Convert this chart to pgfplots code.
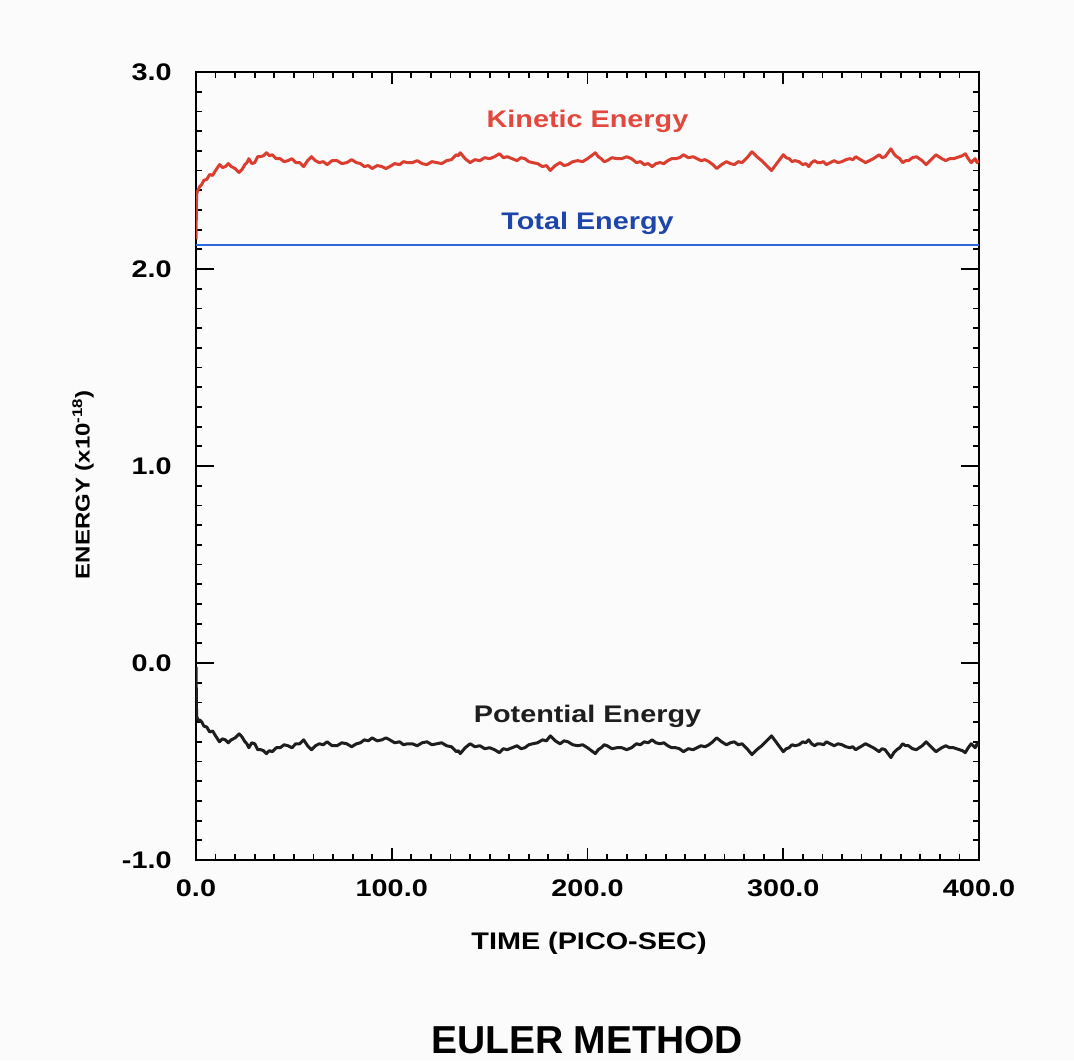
\documentclass[border=0pt]{standalone}
\usepackage{fontspec}
\setmainfont{Liberation Sans}[FakeStretch=1.2]
\newfontfamily\titlefont{Liberation Sans}
\usepackage{pgfplots}
\usepackage{pgfplotstable}
\pgfplotsset{compat=1.18}
\definecolor{pagebg}{RGB}{251,251,251}
\definecolor{kinred}{RGB}{218,62,48}
\definecolor{kintext}{RGB}{226,72,62}
\definecolor{totblue}{RGB}{45,105,225}
\definecolor{tottext}{RGB}{30,70,170}
\definecolor{potblack}{RGB}{30,30,30}

\pgfplotstableread{
t k
0 2.150
0.3 2.380
1 2.400
2 2.420
3 2.430
4 2.450
5.5 2.455
7 2.480
8.5 2.475
10 2.500
11 2.515
12 2.530
13.5 2.515
15 2.520
16.5 2.535
18 2.520
20 2.510
22 2.490
23.5 2.505
25 2.530
26 2.540
27 2.560
28.5 2.535
30 2.540
31.5 2.570
33 2.570
34.5 2.575
36 2.590
37.5 2.575
39 2.580
41 2.560
43 2.560
45 2.545
47 2.550
49 2.560
51 2.540
53 2.540
55 2.520
57 2.550
59 2.570
61 2.550
63 2.540
65 2.545
67 2.530
69.5 2.550
72 2.550
74.5 2.535
77 2.540
79.5 2.555
82 2.540
84 2.535
86 2.520
88 2.525
90 2.510
92.5 2.525
95 2.520
97 2.510
99 2.520
101.5 2.535
104 2.530
106 2.545
108 2.540
110.5 2.540
113 2.550
115.5 2.535
118 2.530
120.5 2.545
123 2.540
125.5 2.535
128 2.550
130.5 2.555
133 2.580
134 2.575
135 2.590
137.5 2.560
140 2.540
142.5 2.555
145 2.550
147.5 2.565
150 2.560
152.5 2.570
155 2.585
157 2.565
159 2.570
161.5 2.560
164 2.550
166 2.565
168 2.560
170 2.545
172 2.540
174.5 2.535
177 2.520
179 2.525
181 2.500
183.5 2.525
186 2.540
188 2.525
190 2.530
192.5 2.545
195 2.550
197.5 2.545
200 2.560
202 2.575
204 2.590
205.5 2.570
207 2.560
208.5 2.545
210 2.550
212.5 2.565
215 2.560
217.5 2.560
220 2.570
222.5 2.560
225 2.540
227 2.545
229 2.530
231 2.535
233 2.520
235 2.535
237 2.540
239 2.535
241 2.550
243 2.560
245 2.560
247 2.565
249 2.580
251.5 2.565
254 2.570
256 2.560
258 2.550
260 2.555
262 2.545
264 2.530
266 2.510
268.5 2.530
271 2.545
273 2.535
275 2.530
277 2.545
279 2.540
281.5 2.565
284 2.595
286.5 2.570
289 2.550
291.5 2.525
294 2.500
295.5 2.520
297 2.540
298.5 2.560
300 2.580
301.5 2.565
303 2.560
304.5 2.545
306 2.550
308 2.545
310 2.530
311.5 2.535
313 2.520
314.5 2.540
316 2.550
317.5 2.540
319 2.540
320.5 2.545
322 2.530
324 2.540
326 2.550
328 2.540
330 2.545
332 2.555
334 2.560
335.5 2.555
337 2.570
339.5 2.555
342 2.540
344 2.550
346 2.560
347.5 2.570
349 2.580
350.5 2.565
352 2.570
353.5 2.590
355 2.610
356.5 2.585
358 2.570
359.5 2.560
361 2.540
362.5 2.550
364 2.550
366 2.565
368 2.570
369.5 2.560
371 2.550
372 2.540
373 2.530
374.5 2.545
376 2.560
377 2.570
378 2.580
379.5 2.570
381 2.560
382 2.555
383 2.550
385 2.560
387 2.560
388.5 2.565
390 2.570
391.5 2.575
393 2.585
394.5 2.560
396 2.540
397 2.550
398 2.560
399 2.540
400 2.550
}\kindata

\pgfplotstableread{
t p
0 -0.020
0.3 -0.270
1 -0.290
2 -0.290
3 -0.300
4 -0.320
5.5 -0.325
7 -0.350
8.5 -0.345
10 -0.370
11 -0.385
12 -0.400
13.5 -0.385
15 -0.390
16.5 -0.405
18 -0.390
20 -0.380
22 -0.360
23.5 -0.375
25 -0.400
26 -0.410
27 -0.430
28.5 -0.405
30 -0.410
31.5 -0.440
33 -0.440
34.5 -0.445
36 -0.460
37.5 -0.445
39 -0.450
41 -0.430
43 -0.430
45 -0.415
47 -0.420
49 -0.430
51 -0.410
53 -0.410
55 -0.390
57 -0.420
59 -0.440
61 -0.420
63 -0.410
65 -0.415
67 -0.400
69.5 -0.420
72 -0.420
74.5 -0.405
77 -0.410
79.5 -0.425
82 -0.410
84 -0.405
86 -0.390
88 -0.395
90 -0.380
92.5 -0.395
95 -0.390
97 -0.380
99 -0.390
101.5 -0.405
104 -0.400
106 -0.415
108 -0.410
110.5 -0.410
113 -0.420
115.5 -0.405
118 -0.400
120.5 -0.415
123 -0.410
125.5 -0.405
128 -0.420
130.5 -0.425
133 -0.450
134 -0.445
135 -0.460
137.5 -0.430
140 -0.410
142.5 -0.425
145 -0.420
147.5 -0.435
150 -0.430
152.5 -0.440
155 -0.455
157 -0.435
159 -0.440
161.5 -0.430
164 -0.420
166 -0.435
168 -0.430
170 -0.415
172 -0.410
174.5 -0.405
177 -0.390
179 -0.395
181 -0.370
183.5 -0.395
186 -0.410
188 -0.395
190 -0.400
192.5 -0.415
195 -0.420
197.5 -0.415
200 -0.430
202 -0.445
204 -0.460
205.5 -0.440
207 -0.430
208.5 -0.415
210 -0.420
212.5 -0.435
215 -0.430
217.5 -0.430
220 -0.440
222.5 -0.430
225 -0.410
227 -0.415
229 -0.400
231 -0.405
233 -0.390
235 -0.405
237 -0.410
239 -0.405
241 -0.420
243 -0.430
245 -0.430
247 -0.435
249 -0.450
251.5 -0.435
254 -0.440
256 -0.430
258 -0.420
260 -0.425
262 -0.415
264 -0.400
266 -0.380
268.5 -0.400
271 -0.415
273 -0.405
275 -0.400
277 -0.415
279 -0.410
281.5 -0.435
284 -0.465
286.5 -0.440
289 -0.420
291.5 -0.395
294 -0.370
295.5 -0.390
297 -0.410
298.5 -0.430
300 -0.450
301.5 -0.435
303 -0.430
304.5 -0.415
306 -0.420
308 -0.415
310 -0.400
311.5 -0.405
313 -0.390
314.5 -0.410
316 -0.420
317.5 -0.410
319 -0.410
320.5 -0.415
322 -0.400
324 -0.410
326 -0.420
328 -0.410
330 -0.415
332 -0.425
334 -0.430
335.5 -0.425
337 -0.440
339.5 -0.425
342 -0.410
344 -0.420
346 -0.430
347.5 -0.440
349 -0.450
350.5 -0.435
352 -0.440
353.5 -0.460
355 -0.480
356.5 -0.455
358 -0.440
359.5 -0.430
361 -0.410
362.5 -0.420
364 -0.420
366 -0.435
368 -0.440
369.5 -0.430
371 -0.420
372 -0.410
373 -0.400
374.5 -0.415
376 -0.430
377 -0.440
378 -0.450
379.5 -0.440
381 -0.430
382 -0.425
383 -0.420
385 -0.430
387 -0.430
388.5 -0.435
390 -0.440
391.5 -0.445
393 -0.455
394.5 -0.430
396 -0.410
397 -0.420
398 -0.430
399 -0.410
400 -0.420
}\potdata

\begin{document}
\begin{tikzpicture}
\fill[pagebg] (0pt,0pt) rectangle (537pt,530pt);
\path[use as bounding box] (0pt,0pt) rectangle (537pt,530pt);
\begin{axis}[
  at={(98pt,100pt)}, anchor=south west,
  scale only axis, width=391.5pt, height=394pt,
  xmin=0, xmax=400, ymin=-1, ymax=3,
  xtick={0,100,200,300,400},
  xticklabels={0.0,100.0,200.0,300.0,400.0},
  ytick={-1,0,1,2,3},
  yticklabels={-1.0,0.0,1.0,2.0,3.0},
  minor x tick num=9, minor y tick num=9,
  tick align=inside,
  major tick length=6pt, minor tick length=3pt,
  axis line style={line width=1pt},
  every tick/.style={black, line width=0.9pt},
  ticklabel style={font=\bfseries\fontsize{12}{12}\selectfont},
  xticklabel style={anchor=center, yshift=-14pt},
  yticklabel style={anchor=east, inner sep=0pt, xshift=-12pt},
  extra y ticks={-1,0,1,2,3},
  extra y tick labels={},
  extra y tick style={major tick length=9pt},
]
\addplot[draw=totblue, line width=1pt] coordinates {(0,2.12) (400,2.12)};
\addplot[draw=kinred, line width=1.5pt, line join=round] table[x=t, y=k] {\kindata};
\addplot[draw=potblack, line width=1.5pt, line join=round] table[x=t, y=p] {\potdata};
\node[kintext, font=\bfseries\fontsize{12}{12}\selectfont] at (axis cs:200,2.75) {Kinetic Energy};
\node[tottext, font=\bfseries\fontsize{12}{12}\selectfont] at (axis cs:200,2.23) {Total Energy};
\node[potblack, font=\bfseries\fontsize{12}{12}\selectfont] at (axis cs:200,-0.27) {Potential Energy};
\end{axis}
\node[font=\bfseries\fontsize{12}{12}\selectfont] at (294.5pt,58.5pt) {TIME (PICO-SEC)};
\node[rotate=90, font=\bfseries\fontsize{10}{10}\selectfont] at (41.5pt,287.5pt) {ENERGY (x10\raisebox{0.7ex}{\fontsize{7}{7}\selectfont -18})};
\node[font=\titlefont\bfseries\fontsize{19.5}{19.5}\selectfont] at (293.5pt,10pt) {EULER METHOD};
\end{tikzpicture}
\end{document}
